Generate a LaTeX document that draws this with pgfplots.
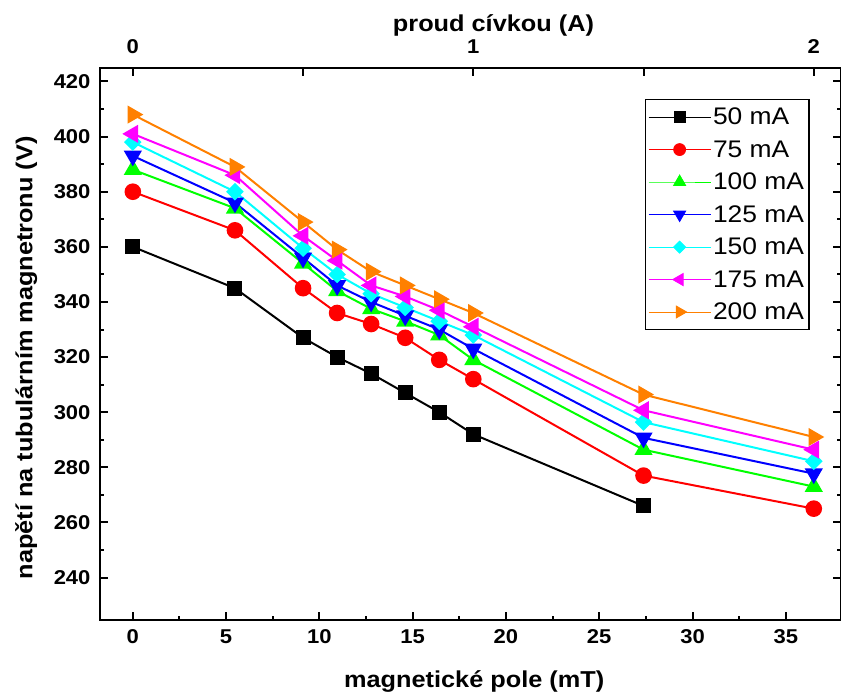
\documentclass[border=0pt]{standalone}
\usepackage{fontspec}
\setmainfont{Liberation Sans}[FakeStretch=1.1]
\usepackage{pgfplots}
\pgfplotsset{compat=1.18}
\definecolor{cOr}{RGB}{255,128,0}
\definecolor{cGr}{RGB}{0,255,0}
\definecolor{cBl}{RGB}{0,0,255}
\definecolor{cCy}{RGB}{0,255,255}
\definecolor{cMa}{RGB}{255,0,255}
\definecolor{cRe}{RGB}{255,0,0}
\begin{document}
\begin{tikzpicture}
\pgfplotsset{
  common/.style={
    scale only axis, width=741pt, height=552pt,
    xmin=-1.76, xmax=37.96, ymin=224.6, ymax=424.9,
    axis line style={line width=2.5pt},
    tick style={line width=2pt, black},
    major tick length=8pt, minor tick length=4pt,
    tick align=inside,
    /pgf/number format/assume math mode=true,
    ticklabel style={font=\fontsize{20}{20}\selectfont\bfseries},
    label style={font=\fontsize{23}{23}\selectfont\bfseries},
  }
}
\begin{axis}[common,
  xtick={0,5,...,35}, minor x tick num=1,
  ytick={240,260,...,420}, minor y tick num=1,
  xtick pos=bottom,
  xticklabel style={yshift=-6pt},
  yticklabel style={xshift=-6pt},
  xlabel={magnetické pole (mT)},
  ylabel={napětí na tubulárním magnetronu (V)},
  xlabel style={at={(axis description cs:0.505,0)}, anchor=base, yshift=-68pt},
  ylabel style={at={(axis description cs:-0.0995,0.475)}, anchor=center},
  every axis plot/.append style={line width=2pt},
  legend style={at={(axis description cs:0.735,0.944)}, anchor=north west,
    draw=black, line width=1.2pt, font=\fontsize{24}{24}\selectfont,
    inner xsep=3pt, inner ysep=6.5pt, row sep=10.3pt},
  legend cell align=left,
  legend image code/.code={\draw[#1, line width=0.8pt, every mark/.append style={scale=0.82}, mark repeat=2, mark phase=2] plot coordinates {(0pt,0pt) (31pt,0pt) (62pt,0pt)};},
]
\addplot[black, mark=square*, mark size=6.5pt] coordinates {
(0,360) (5.475,345) (9.125,327) (10.95,320) (12.775,314) (14.6,307) (16.425,300) (18.25,292) (27.375,266)};
\addlegendentry{50 mA}
\addplot[cRe, mark=*, mark size=7.3pt] coordinates {
(0,380) (5.475,366) (9.125,345) (10.95,336) (12.775,332) (14.6,327) (16.425,319) (18.25,312) (27.375,277) (36.5,265)};
\addlegendentry{75 mA}
\addplot[cGr, mark=triangle*, mark size=8.5pt] coordinates {
(0,388) (5.475,374) (9.125,354) (10.95,344) (12.775,337.5) (14.6,333) (16.425,328) (18.25,319) (27.375,286.4) (36.5,273)};
\addlegendentry{100 mA}
\addplot[cBl, mark=triangle*, mark size=8.5pt, mark options={rotate=180}] coordinates {
(0,393) (5.475,376) (9.125,356) (10.95,346) (12.775,340) (14.6,335) (16.425,330) (18.25,323) (27.375,290.7) (36.5,277.7)};
\addlegendentry{125 mA}
\addplot[cCy, mark=square*, mark size=5.2pt, mark options={rotate=45}] coordinates {
(0,398) (5.475,380) (9.125,359.5) (10.95,350) (12.775,343) (14.6,338) (16.425,333) (18.25,328) (27.375,296.4) (36.5,282.2)};
\addlegendentry{150 mA}
\addplot[cMa, mark=triangle*, mark size=8.5pt, mark options={rotate=90}] coordinates {
(0,401) (5.475,386) (9.125,364) (10.95,355) (12.775,346) (14.6,342) (16.425,337) (18.25,331) (27.375,300.7) (36.5,286.4)};
\addlegendentry{175 mA}
\addplot[cOr, mark=triangle*, mark size=8.5pt, mark options={rotate=-90}] coordinates {
(0,408) (5.475,389) (9.125,369) (10.95,359) (12.775,351) (14.6,346) (16.425,341) (18.25,336) (27.375,306.4) (36.5,291)};
\addlegendentry{200 mA}
\end{axis}
\begin{axis}[common,
  axis x line*=top, hide y axis,
  xtick={0,9.125,18.25,27.375,36.5}, xticklabels={0,,1,,2},
  minor x tick num=0,
  xticklabel style={yshift=11pt},
  xlabel={proud cívkou (A)},
  xlabel style={at={(axis description cs:0.531,1)}, anchor=base, yshift=36pt},
]
\end{axis}
\pgfresetboundingbox
\useasboundingbox ([shift={(-100pt,-78pt)}]current axis.south west) rectangle ([shift={(0pt,68pt)}]current axis.north east);
\end{tikzpicture}
\end{document}
